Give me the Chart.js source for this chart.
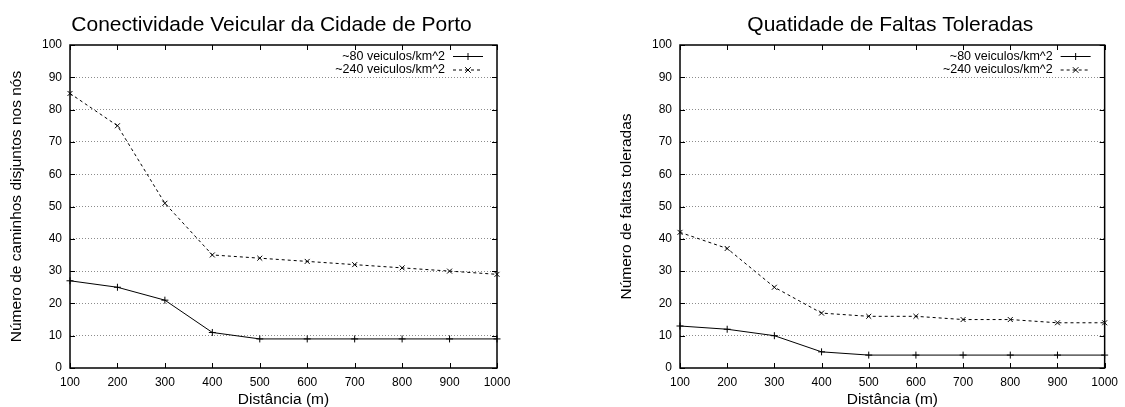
<!DOCTYPE html>
<html><head><meta charset="utf-8">
<script src="https://cdn.jsdelivr.net/npm/chart.js@4.4.0/dist/chart.umd.min.js"></script>
<style>
html,body{margin:0;padding:0;background:#fff;}
#wrap{position:relative;width:1125px;height:407px;overflow:hidden;background:#fff;}
canvas{position:absolute;top:0;}
</style></head><body>
<div id="wrap">
<canvas id="left" width="560" height="407" style="left:0;width:560px;height:407px"></canvas>
<canvas id="right" width="565" height="407" style="left:560px;width:565px;height:407px"></canvas>
</div>
<script>
// ---- data ----
const distances = [100, 200, 300, 400, 500, 600, 700, 800, 900, 1000];
const connLow  = [27, 25, 21, 11, 9, 9, 9, 9, 9, 9];
const connHigh = [85, 75, 51, 35, 34, 33, 32, 31, 30, 29];
const faultLow  = [13, 12, 10, 5, 4, 4, 4, 4, 4, 4];
const faultHigh = [42, 37, 25, 17, 16, 16, 15, 15, 14, 14];
const seriesLabels = ['~80 veiculos/km^2', '~240 veiculos/km^2'];
const yTickValues = [0, 10, 20, 30, 40, 50, 60, 70, 80, 90, 100];
const chartTitles = ['Conectividade Veicular da Cidade de Porto', 'Quatidade de Faltas Toleradas'];
const yTitles = ['Número de caminhos disjuntos nos nós', 'Número de faltas toleradas'];
const xTitle = 'Distância (m)';

const FONT = '"Liberation Sans", Arial, Helvetica, sans-serif';
Chart.defaults.font.family = FONT;
Chart.defaults.color = '#000';

function drawMarker(ctx, style, x, y, r) {
  ctx.beginPath();
  if (style === 'cross') {
    ctx.moveTo(x - r, y); ctx.lineTo(x + r, y);
    ctx.moveTo(x, y - r); ctx.lineTo(x, y + r);
  } else {
    const d = r * 0.8;
    ctx.moveTo(x - d, y - d); ctx.lineTo(x + d, y + d);
    ctx.moveTo(x - d, y + d); ctx.lineTo(x + d, y - d);
  }
  ctx.stroke();
}

const gnuplotDecor = {
  id: 'gnuplotDecor',
  afterDraw(chart, args, opts) {
    const {ctx, chartArea: a, scales: {x, y}} = chart;
    ctx.save();
    // ticks (inward, mirrored)
    ctx.strokeStyle = '#000';
    ctx.lineWidth = 1;
    ctx.beginPath();
    x.ticks.forEach(t => {
      const px = Math.round(x.getPixelForValue(t.value)) + 0.5;
      ctx.moveTo(px, a.bottom); ctx.lineTo(px, a.bottom - 5);
      ctx.moveTo(px, a.top); ctx.lineTo(px, a.top + 5);
    });
    y.ticks.forEach(t => {
      const py = Math.round(y.getPixelForValue(t.value)) + 0.5;
      ctx.moveTo(a.left, py); ctx.lineTo(a.left + 5, py);
      ctx.moveTo(a.right, py); ctx.lineTo(a.right - 5, py);
    });
    ctx.stroke();
    // frame
    ctx.lineWidth = 1.5;
    ctx.strokeRect(a.left, a.top, a.right - a.left, a.bottom - a.top);
    // title
    ctx.fillStyle = '#000';
    ctx.font = '21px ' + FONT;
    ctx.textAlign = 'center';
    ctx.textBaseline = 'alphabetic';
    const cx = (a.left + a.right) / 2 + (opts.titleShift || 0);
    ctx.fillText(opts.title, cx, 31);
    // legend
    ctx.font = '12.5px ' + FONT;
    ctx.textAlign = 'right';
    ctx.textBaseline = 'middle';
    chart.data.datasets.forEach((ds, i) => {
      const ly = a.top + 11.5 + i * 13.5;
      ctx.fillText(ds.label, a.right - 52, ly);
      ctx.lineWidth = 1;
      ctx.setLineDash(ds.borderDash || []);
      ctx.beginPath();
      ctx.moveTo(a.right - 44, ly); ctx.lineTo(a.right - 14, ly);
      ctx.stroke();
      ctx.setLineDash([]);
      drawMarker(ctx, ds.pointStyle, a.right - 29, ly, 3.5);
    });
    ctx.restore();
  }
};

function makeChart(id, title, yTitle, low, high, padLeft, yWidth, padRight, titleShift) {
  const toPts = arr => distances.map((d, i) => ({x: d, y: arr[i]}));
  return new Chart(document.getElementById(id), {
    type: 'line',
    data: {
      datasets: [
        {label: seriesLabels[0], data: toPts(low), borderColor: '#000', borderWidth: 1,
         pointStyle: 'cross', pointRadius: 3.5, pointBorderWidth: 1, pointBorderColor: '#000',
         pointBackgroundColor: '#000', tension: 0, fill: false, clip: false},
        {label: seriesLabels[1], data: toPts(high), borderColor: '#000', borderWidth: 1,
         borderDash: [3, 3],
         pointStyle: 'crossRot', pointRadius: 3.5, pointBorderWidth: 1, pointBorderColor: '#000',
         pointBackgroundColor: '#000', tension: 0, fill: false, clip: false}
      ]
    },
    options: {
      responsive: false,
      animation: false,
      devicePixelRatio: 1,
      layout: {padding: {left: padLeft, right: padRight, top: 45, bottom: 0}},
      plugins: {
        legend: {display: false},
        tooltip: {enabled: false},
        title: {display: false},
        gnuplotDecor: {title: title, titleShift: titleShift}
      },
      scales: {
        x: {
          type: 'linear', min: distances[0], max: distances[distances.length - 1],
          afterBuildTicks: s => { s.ticks = distances.map(v => ({value: v})); },
          ticks: {font: {size: 12}, color: '#000', padding: 7, maxRotation: 0,
                  callback: v => String(v)},
          grid: {display: false, drawTicks: false},
          border: {display: false},
          title: {display: true, text: xTitle, color: '#000',
                  font: {size: 15.5, lineHeight: 1}, padding: 0},
          afterFit: s => { s.height = 39; }
        },
        y: {
          type: 'linear', min: yTickValues[0], max: yTickValues[yTickValues.length - 1],
          afterBuildTicks: s => { s.ticks = yTickValues.map(v => ({value: v})); },
          ticks: {font: {size: 12}, color: '#000', padding: 8, callback: v => String(v)},
          grid: {drawTicks: false, lineWidth: 1,
                 color: c => (c.tick && (c.tick.value === 0 || c.tick.value === 100)) ? 'rgba(0,0,0,0)' : '#8c8c8c'},
          border: {display: false, dash: [1, 2]},
          title: {display: true, text: yTitle, color: '#000',
                  font: {size: 15.5, lineHeight: 1}, padding: 0},
          afterFit: s => { s.width = yWidth; }
        }
      }
    },
    plugins: [gnuplotDecor]
  });
}

makeChart('left', chartTitles[0], yTitles[0], connLow, connHigh, 9.25, 60.75, 63, -12);
makeChart('right', chartTitles[1], yTitles[1], faultLow, faultHigh, 59.25, 60.75, 18, -2);
</script>
</body></html>
